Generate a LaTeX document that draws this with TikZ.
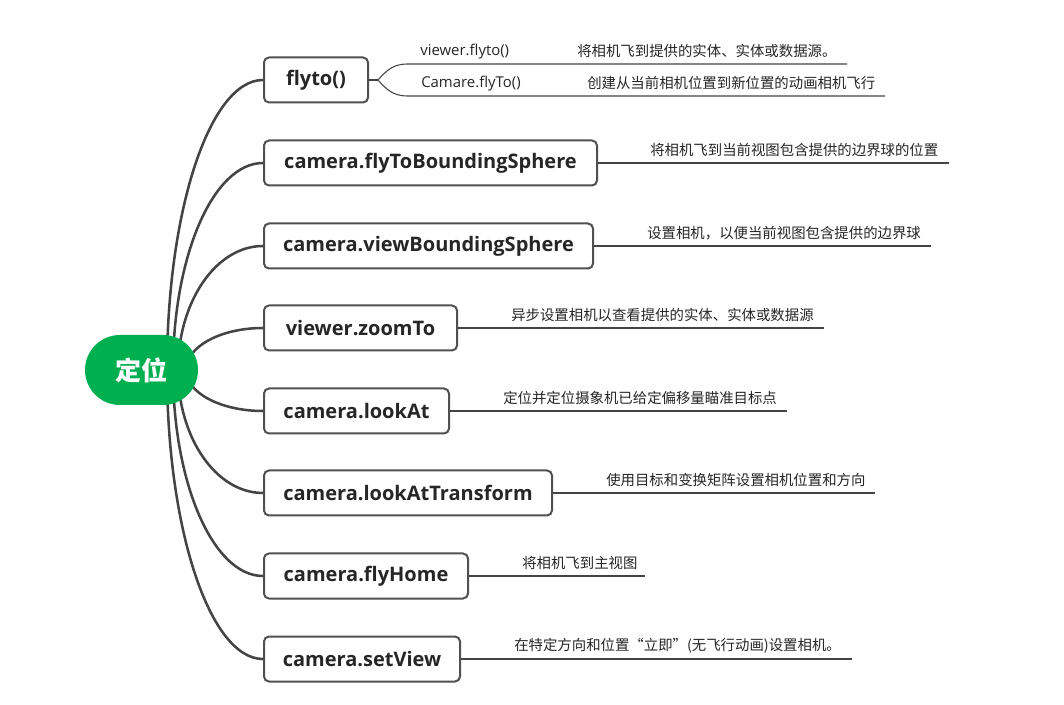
\documentclass[tikz,border=0pt]{standalone}
\usepackage{fontspec}
\setmainfont{Open Sans}
\newfontfamily\cjk{Noto Sans CJK SC}
\usetikzlibrary{backgrounds,calc}
\definecolor{rootgreen}{RGB}{0,176,80}
\definecolor{edgecol}{RGB}{68,68,68}
\definecolor{boxline}{RGB}{80,80,80}
\definecolor{txt}{RGB}{38,38,38}
\begin{document}
\begin{tikzpicture}[x=0.75pt,y=-0.75pt,
  rootnode/.style={fill=rootgreen, rounded corners=26.2pt, minimum width=84.75pt, minimum height=52.5pt,
    text=white, font=\cjk\bfseries\fontsize{19.5}{22}\selectfont, inner sep=0pt},
  boxnode/.style={draw=boxline, line width=1.5pt, fill=white, rounded corners=3.75pt, minimum height=33.75pt,
    inner sep=0pt, anchor=west, text=txt, font=\bfseries\fontsize{15}{18}\selectfont},
  conn/.style={draw=edgecol, line width=1.9pt},
  subline/.style={draw=edgecol, line width=0.8pt},
  desc/.style={inner sep=0pt, anchor=west, text=txt, font=\cjk\fontsize{10.8}{13}\selectfont},
  latin/.style={inner sep=0pt, anchor=west, text=txt, font=\fontsize{11.2}{13}\selectfont}]
\useasboundingbox (0,0) rectangle (1064,705);

% root
\node[rootnode] (root) at (141.5,370) {定位};

% boxes
\node[boxnode, minimum width=78pt]     (b1) at (263,80)  {flyto()};
\node[boxnode, minimum width=249.75pt] (b2) at (263,163) {camera.flyToBoundingSphere};
\node[boxnode, minimum width=246.75pt] (b3) at (263,246) {camera.viewBoundingSphere};
\node[boxnode, minimum width=144.75pt] (b4) at (263,328) {viewer.zoomTo};
\node[boxnode, minimum width=138.75pt] (b5) at (263,411) {camera.lookAt};
\node[boxnode, minimum width=216pt]    (b6) at (263,493) {camera.lookAtTransform};
\node[boxnode, minimum width=153pt]    (b7) at (263,576) {camera.flyHome};
\node[boxnode, minimum width=147pt]    (b8) at (263,659) {camera.setView};

% connectors from root
\begin{pgfonlayer}{background}
\fill[white] (0,0) rectangle (1064,705);
\draw[conn] ($(root.center)+(25.5,0)$) .. controls +(0,-160.2) and +(-53,0) .. (b1.west);
\draw[conn] ($(root.center)+(31.5,0)$) .. controls +(0,-114.3) and +(-49.7,0) .. (b2.west);
\draw[conn] ($(root.center)+(36.5,0)$) .. controls +(0,-68.5) and +(-46.9,0) .. (b3.west);
\draw[conn] ($(root.center)+(44.5,0)$) .. controls +(0,-23.2) and +(-42.5,0) .. (b4.west);
\draw[conn] ($(root.center)+(44.5,0)$) .. controls +(0,22.6) and +(-42.5,0) .. (b5.west);
\draw[conn] ($(root.center)+(36.5,0)$) .. controls +(0,67.9) and +(-46.9,0) .. (b6.west);
\draw[conn] ($(root.center)+(31.5,0)$) .. controls +(0,113.8) and +(-49.7,0) .. (b7.west);
\draw[conn] ($(root.center)+(25.5,0)$) .. controls +(0,159.6) and +(-53,0) .. (b8.west);
\end{pgfonlayer}

% flyto() sub-branches
\coordinate (fk) at (378,80);
\coordinate (u1) at (407,64);
\coordinate (u2) at (847,64);
\coordinate (l1) at (407,96);
\coordinate (l2) at (885,96);
\draw[subline] (b1.east) -- (fk);
\draw[subline] (fk) .. controls (386,71) and (393,64) .. (u1) -- (u2);
\draw[subline] (fk) .. controls (386,89) and (393,96) .. (l1) -- (l2);
\node[latin] (s1) at (420,52) {viewer.flyto()};
\node[desc]  (t1) at (577,51) {将相机飞到提供的实体、实体或数据源。};
\node[latin] (s2) at (421,84) {Camare.flyTo()};
\node[desc]  (t2) at (587,83) {创建从当前相机位置到新位置的动画相机飞行};

% descriptions
\coordinate (e2) at (949,163);
\coordinate (e3) at (931,246);
\coordinate (e4) at (824,328);
\coordinate (e5) at (787,411);
\coordinate (e6) at (875,493);
\coordinate (e7) at (645,576);
\coordinate (e8) at (852,659);
\draw[subline] (b2.east) -- (e2);
\draw[subline] (b3.east) -- (e3);
\draw[subline] (b4.east) -- (e4);
\draw[subline] (b5.east) -- (e5);
\draw[subline] (b6.east) -- (e6);
\draw[subline] (b7.east) -- (e7);
\draw[subline] (b8.east) -- (e8);
\node[desc] (d2) at (650,150) {将相机飞到当前视图包含提供的边界球的位置};
\node[desc] (d3) at (647,233) {设置相机，以便当前视图包含提供的边界球};
\node[desc] (d4) at (511,315) {异步设置相机以查看提供的实体、实体或数据源};
\node[desc] (d5) at (503,398) {定位并定位摄象机已给定偏移量瞄准目标点};
\node[desc] (d6) at (606,480) {使用目标和变换矩阵设置相机位置和方向};
\node[desc] (d7) at (522,563) {将相机飞到主视图};
\node[desc] (d8) at (514,646) {在特定方向和位置“立即”(无飞行动画)设置相机。};
\end{tikzpicture}
\end{document}
